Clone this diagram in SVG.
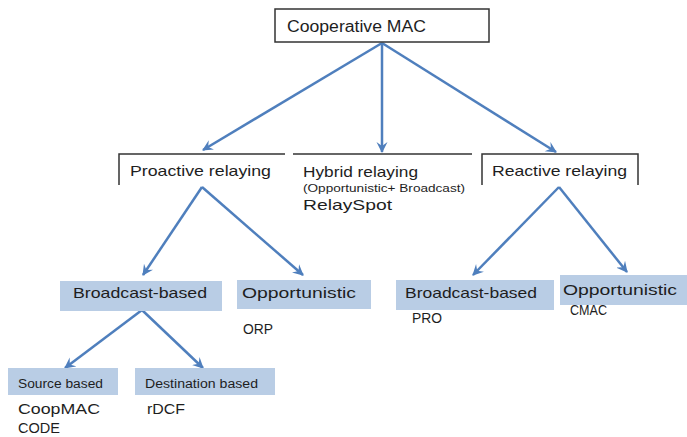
<svg xmlns="http://www.w3.org/2000/svg" width="687" height="437" viewBox="0 0 687 437">
<defs>
<marker id="ah" markerUnits="userSpaceOnUse" viewBox="0 0 12 12" markerWidth="12" markerHeight="12" refX="10" refY="6" orient="auto">
<path d="M0,0.5 L11,6 L0,11.5 L4,6 z" fill="#4f7fbd"/>
</marker>
</defs>
<style>
text{font-family:"Liberation Sans",Arial,sans-serif;fill:#1e1e1e}
.m{font-size:15px}
.s{font-size:10px}
.b{font-size:12px}
.box{fill:#b9cde5;stroke:none}
.ln{fill:none;stroke:#333;stroke-width:1.5}
.c{fill:none;stroke:#4f7fbd;stroke-width:2.5;marker-end:url(#ah)}
</style>
<rect width="687" height="437" fill="#fff"/>
<g id="connectors">
<line class="c" x1="382" y1="43" x2="203" y2="150"/>
<line class="c" x1="382" y1="43" x2="382" y2="152"/>
<line class="c" x1="382" y1="43" x2="556" y2="152"/>
<line class="c" x1="202" y1="187" x2="143" y2="275"/>
<line class="c" x1="202" y1="187" x2="303" y2="275"/>
<line class="c" x1="559" y1="187" x2="473" y2="275"/>
<line class="c" x1="559" y1="187" x2="627" y2="272"/>
<line class="c" x1="142" y1="310" x2="65" y2="368"/>
<line class="c" x1="142" y1="310" x2="203" y2="368"/>
</g>
<g id="cooperative-mac">
<rect class="ln" x="275" y="9" width="214" height="33" fill="#fff"/>
<text class="m" x="287" y="32" style="font-size:16px" textLength="139" lengthAdjust="spacingAndGlyphs">Cooperative MAC</text>
</g>
<g id="proactive">
<path class="ln" d="M119,185 L119,154 L285,154"/>
<text class="m" x="130" y="176" textLength="141" lengthAdjust="spacingAndGlyphs">Proactive relaying</text>
</g>
<g id="hybrid">
<path class="ln" d="M293,154 L472,154"/>
<text class="m" x="303" y="177" textLength="115" lengthAdjust="spacingAndGlyphs">Hybrid relaying</text>
<text class="s" x="303" y="192" textLength="162" lengthAdjust="spacingAndGlyphs">(Opportunistic+ Broadcast)</text>
<text class="m" x="303" y="210" textLength="89" lengthAdjust="spacingAndGlyphs">RelaySpot</text>
</g>
<g id="reactive">
<path class="ln" d="M482,185 L482,154 L638,154 L638,185"/>
<text class="m" x="492" y="176" textLength="135" lengthAdjust="spacingAndGlyphs">Reactive relaying</text>
</g>
<g id="pro-broadcast">
<rect class="box" x="60" y="281" width="162" height="30"/>
<text class="m" x="73" y="298" textLength="134" lengthAdjust="spacingAndGlyphs">Broadcast-based</text>
</g>
<g id="pro-opportunistic">
<rect class="box" x="237" y="280" width="134" height="29"/>
<text class="m" x="242" y="298" textLength="114" lengthAdjust="spacingAndGlyphs">Opportunistic</text>
<text class="m" x="243" y="334" textLength="30" lengthAdjust="spacingAndGlyphs">ORP</text>
</g>
<g id="re-broadcast">
<rect class="box" x="396" y="280" width="158" height="30"/>
<text class="m" x="405" y="298" textLength="132" lengthAdjust="spacingAndGlyphs">Broadcast-based</text>
<text class="m" x="412" y="323" textLength="30" lengthAdjust="spacingAndGlyphs">PRO</text>
</g>
<g id="re-opportunistic">
<rect class="box" x="560" y="275" width="127" height="30"/>
<text class="m" x="563" y="295" textLength="114" lengthAdjust="spacingAndGlyphs">Opportunistic</text>
<text class="m" x="570" y="315" textLength="37" lengthAdjust="spacingAndGlyphs">CMAC</text>
</g>
<g id="source-based">
<rect class="box" x="8" y="368" width="110" height="27"/>
<text class="b" x="18" y="388" textLength="85" lengthAdjust="spacingAndGlyphs">Source based</text>
<text class="m" x="18" y="414" textLength="82" lengthAdjust="spacingAndGlyphs">CoopMAC</text>
<text class="m" x="18" y="433" textLength="42" lengthAdjust="spacingAndGlyphs">CODE</text>
</g>
<g id="destination-based">
<rect class="box" x="135" y="368" width="140" height="27"/>
<text class="b" x="145" y="388" textLength="113" lengthAdjust="spacingAndGlyphs">Destination based</text>
<text class="m" x="147" y="414" textLength="38" lengthAdjust="spacingAndGlyphs">rDCF</text>
</g>
</svg>
